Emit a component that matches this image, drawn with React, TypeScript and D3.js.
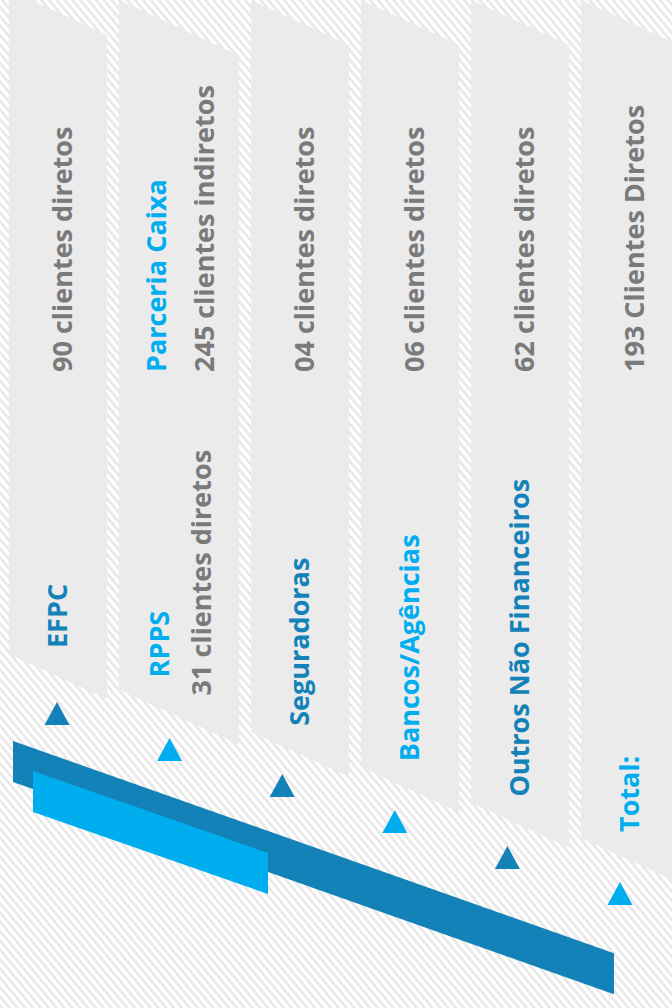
import React, { useEffect } from 'react';
import * as d3 from 'd3';

// segment names (bottom of each panel) and client counts (top of each panel)
const segments = ['EFPC', 'RPPS', 'Seguradoras', 'Bancos/Agências', 'Outros Não Financeiros', 'Total:'];
const directClients = [90, 31, 4, 6, 62, 193];
const countLabels = [
  '90 clientes diretos',
  '31 clientes diretos',
  '04 clientes diretos',
  '06 clientes diretos',
  '62 clientes diretos',
  '193 Clientes Diretos',
];
const partnerNames = ['Parceria Caixa'];
const partnerIndirect = [245];
const partnerLabels = ['245 clientes indiretos'];

const COLOR = {
  DARK: '#1282b8',
  LIGHT: '#00aeef',
  GRAY_TEXT: '#7a7a7a',
  PANEL: '#ebebeb',
  STRIPE: '#e7e7e7',
};

const W = 672;
const H = 1008;
const FONT = '"Open Sans", "DejaVu Sans", sans-serif';

const App = () => {
  useEffect(() => {
    document.body.style.margin = '0';
  }, []);

  const n = segments.length;
  const hasPartner = (i: number) => i === 1;

  // panel widths: the panel holding the partner block is wider
  const gap = 12;
  const widths = segments.map((_, i) => (hasPartner(i) ? 120 : 98));
  const lefts: number[] = [];
  widths.reduce((acc, w) => {
    lefts.push(acc);
    return acc + w + gap;
  }, 9);

  const slope = 0.46;
  const bottomLine = d3.scaleLinear().domain([9, 581]).range([654, 838]);
  const triX = d3.scaleLinear().domain([0, n - 1]).range([57, 620]);
  const triY = d3.scaleLinear().domain([0, n - 1]).range([702, 882]);

  const countStart = 372;

  const panelPath = (i: number) => {
    const l = lefts[i];
    const r = l + widths[i];
    const top = i === 0 ? -10 : 0;
    const bl = bottomLine(l);
    const p = d3.path();
    p.moveTo(l, top);
    p.lineTo(r, top + slope * widths[i]);
    p.lineTo(r, bl + slope * widths[i]);
    p.lineTo(l, bl);
    p.closePath();
    return p.toString();
  };

  const ribbon = (x0: number, x1: number, y0: number, s: number, t: number) => {
    const p = d3.path();
    p.moveTo(x0, y0);
    p.lineTo(x1, y0 + s * (x1 - x0));
    p.lineTo(x1, y0 + s * (x1 - x0) + t);
    p.lineTo(x0, y0 + t);
    p.closePath();
    return p.toString();
  };

  const tri = (cx: number, ty: number) => {
    const p = d3.path();
    p.moveTo(cx, ty);
    p.lineTo(cx + 12.5, ty + 23);
    p.lineTo(cx - 12.5, ty + 23);
    p.closePath();
    return p.toString();
  };

  const vText = (key: string, x: number, y: number, txt: string, fill: string, size = 27) => (
    <text
      key={key}
      transform={`translate(${x},${y}) rotate(-90)`}
      fill={fill}
      fontSize={size}
      fontWeight={700}
      fontFamily={FONT}
    >
      {txt}
    </text>
  );

  return (
    <svg width={W} height={H} style={{ position: 'absolute', left: 0, top: 0, display: 'block' }}>
      <defs>
        <pattern id='stripes' width={6} height={6} patternUnits='userSpaceOnUse' patternTransform='rotate(-40)'>
          <rect width={6} height={6} fill='#ffffff' />
          <line x1={1.5} y1={0} x2={1.5} y2={6} stroke={COLOR.STRIPE} strokeWidth={2.6} />
        </pattern>
      </defs>
      <rect width={W} height={H} fill='url(#stripes)' />

      {/* decorative ribbons */}
      <path d={ribbon(13, 614, 741, 0.353, 41)} fill={COLOR.DARK} />
      <path d={ribbon(33, 268, 771, 0.349, 41)} fill={COLOR.LIGHT} />

      {segments.map((name, i) => {
        const l = lefts[i];
        const color = i % 2 === 0 ? COLOR.DARK : COLOR.LIGHT;
        const bl = bottomLine(l);
        const items: React.ReactNode[] = [];
        if (hasPartner(i)) {
          items.push(vText('pn' + i, l + 47, countStart, partnerNames[0], COLOR.LIGHT));
          items.push(vText('pc' + i, l + 95, countStart, partnerLabels[0], COLOR.GRAY_TEXT));
          items.push(vText('n' + i, l + 50, bl - 12, name, color));
          items.push(vText('c' + i, l + 92, bl + 6, countLabels[i], COLOR.GRAY_TEXT));
        } else {
          items.push(vText('n' + i, l + 58, bl - 6, name, color));
          items.push(vText('c' + i, l + 63, countStart, countLabels[i], COLOR.GRAY_TEXT));
        }
        return (
          <g key={name} data-clients={directClients[i]} data-indirect={hasPartner(i) ? partnerIndirect[0] : 0}>
            <path d={panelPath(i)} fill={COLOR.PANEL} />
            {items}
            <path d={tri(triX(i), triY(i))} fill={color} />
          </g>
        );
      })}
    </svg>
  );
};

export default App;
